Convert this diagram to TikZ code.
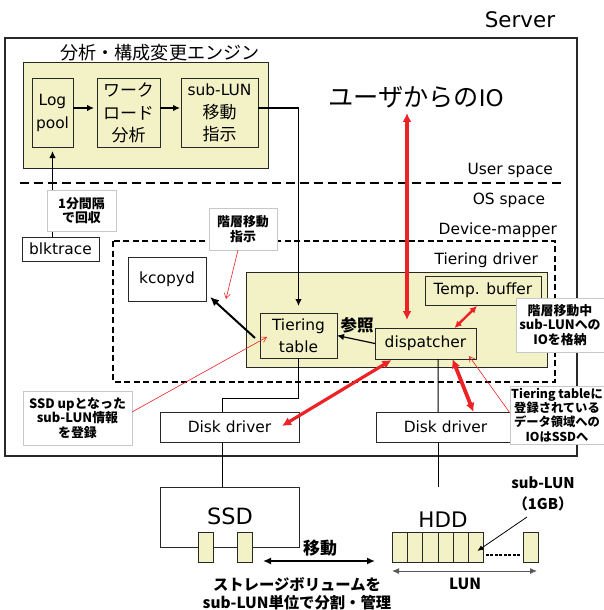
\documentclass[tikz,border=0pt]{standalone}
\usepackage{fontspec}
\setmainfont{DejaVu Sans}
\newfontfamily\jpfont[Scale=1.1]{Noto Sans CJK JP}
\usetikzlibrary{arrows.meta,calc}

\definecolor{paleyellow}{RGB}{242,242,198}
\definecolor{ioRed}{RGB}{236,34,38}
\definecolor{noteline}{RGB}{200,200,200}
\definecolor{boxline}{RGB}{40,40,40}

\begin{document}
\begin{tikzpicture}[x=1bp,y=-1bp,
  every node/.style={inner sep=0pt, outer sep=0pt},
  sz/.style 2 args={minimum width=#1bp, minimum height=#2bp},
  regtext/.style={font=\fontsize{15.5}{22.5}\selectfont},
  plainbox/.style={draw=boxline, line width=1pt, fill=white, align=center, regtext},
  ybox/.style={plainbox, fill=paleyellow},
  note/.style={draw=noteline, line width=1pt, fill=white, align=center,
    font=\jpfont\bfseries\fontsize{11.8}{14.5}\selectfont},
  boldtext/.style={font=\jpfont\bfseries\fontsize{15}{19}\selectfont, align=center},
  arrowblack/.style={draw=black, line width=1.2pt, -{Latex[length=7bp,width=6.5bp]}},
  arrowthick/.style={draw=black, line width=2pt, -{Latex[length=9bp,width=8bp]}},
  redthick/.style={draw=ioRed, line width=3.2pt, {Latex[length=9bp,width=9bp]}-{Latex[length=9bp,width=9bp]}},
  redmid/.style={draw=ioRed, line width=2.4pt, {Latex[length=7bp,width=7bp]}-{Latex[length=7bp,width=7bp]}},
  redthin/.style={draw=ioRed, line width=0.6pt, -{Straight Barb[length=5bp,width=6bp]}},
  wire/.style={draw=black, line width=1pt},
  blackdbl/.style={draw=black, line width=1.5pt, {Latex[length=8bp,width=7bp]}-{Latex[length=8bp,width=7bp]}},
  graydbl/.style={draw=black!65, line width=1pt, {Latex[length=7bp,width=6bp]}-{Latex[length=7bp,width=6bp]}},
  sepdash/.style={draw=black, line width=2pt, dash pattern=on 9bp off 5bp},
  dmdash/.style={draw=black, line width=1.4pt, dash pattern=on 6bp off 3.5bp},
  cell/.style={draw=boxline, line width=1pt, fill=paleyellow, sz={15.33}{30}},
]
\useasboundingbox (0,0) rectangle (604,610);
\fill[white] (0,0) rectangle (604,610);

% server frame and its title
\node[draw=boxline, line width=1.3pt, fill=white, sz={572}{418}] (server) at (291,247) {};
\node[font=\fontsize{21.5}{24}\selectfont] (serverlbl) at (520,20) {Server};

% analysis / reconfiguration engine
\node[font=\jpfont\fontsize{16.5}{18}\selectfont] (enginelbl) at (160,53) {分析・構成変更エンジン};
\node[ybox, sz={245}{105}] (engine) at (145.5,115.5) {};
\node[ybox, sz={41}{68}] (logpool) at (52.5,113) {Log\\pool};
\node[ybox, sz={63}{68}] (work) at (128.5,113) {{\jpfont ワーク}\\{\jpfont ロード}\\{\jpfont 分析}};
\node[ybox, sz={77}{68}] (sub) at (219.5,113) {sub-LUN\\{\jpfont 移動}\\{\jpfont 指示}};
\draw[arrowblack, shorten >=3bp] ($(logpool.east)+(0,-5)$) -- ($(work.west)+(0,-5)$);
\draw[arrowblack, shorten >=1bp] ($(work.east)+(0,-5)$) -- ($(sub.west)+(0,-5)$);

% user / OS boundary
\draw[sepdash] (20,183) -- (563,183);
\node[regtext, anchor=east] (userspace) at (553,170) {User space};
\node[regtext, anchor=east] (osspace) at (545,200) {OS space};

% user IO label
\node[font=\fontsize{23}{26}\selectfont] (iotxt) at (416,97) {{\jpfont ユーザからの}IO};
\coordinate (iohead) at (407,113);

% blktrace
\node[plainbox, sz={77}{24}] (blktrace) at (60.5,249) {blktrace};
\draw[arrowblack, shorten >=4bp] (blktrace.north -| logpool.south) -- (logpool.south);
\node[note, sz={69}{41}] (note1) at (81.5,210.5) {1分間隔\\で回収};

% device-mapper
\draw[dmdash] (113,241) rectangle (555,382);
\node[regtext, anchor=east] (dmlbl) at (557,230) {Device-mapper};
\node[plainbox, sz={78}{44}] (kcopyd) at (167,279) {kcopyd};

% tiering driver
\node[ybox, sz={301}{95}] (tdriver) at (396.5,319.5) {};
\node[regtext, anchor=east] (tdlbl) at (538,260) {Tiering driver};
\node[ybox, sz={116}{29}] (temp) at (483,290.5) {Temp. buffer};
\node[ybox, sz={77}{45}] (table) at (298.5,335.5) {Tiering\\table};
\node[ybox, sz={101}{31}] (disp) at (425.5,343.5) {dispatcher};
\node[boldtext] (reflbl) at (357,325) {参照};

\draw[arrowblack, shorten >=7bp] ($(sub.east)+(0,-5)$) -| (table.north);
\draw[arrowblack] (disp.west) -- (table.east);
\draw[arrowthick] ($(table.west)+(-5,2.5)$) -- ($(kcopyd.south east)+(4,-4)$);

% disk drivers
\node[plainbox, sz={139}{30}] (disk1) at (229.5,427) {Disk driver};
\node[plainbox, sz={139}{30}] (disk2) at (445.5,427) {Disk driver};
\draw[wire] (table.south) -- ++(0,40) -| ($(disk1.north)+(-7.5,0)$);
\draw[wire] ($(disp.south)+(12.5,0)$) -- ($(disk2.north)+(-7.5,0)$);

% IO paths
\draw[redthick, shorten >=8bp] (iohead) -- (iohead |- disp.north);
\draw[redmid] ($(temp.south)+(-6,1)$) -- ($(disp.north)+(29,0)$);
\draw[redthick, line width=3.8pt] ($(disp.south)+(27,0)$) -- ($(disk2.north)+(28,0)$);
\draw[redthick] ($(disp.south)+(-34,1)$) -- ($(disk1.east)+(-17,-1)$);

% annotations
\node[note, sz={68}{42}] (note2) at (243,229) {階層移動\\指示};
\coordinate (movetip) at (226,299);
\draw[redthin] ($(note2.south)+(-5,0)$) -- (movetip);

\node[note, sz={88}{54}] (note3) at (560,325) {階層移動中\\sub-LUNへの\\IOを格納};
\node[note, sz={94}{58}, font=\jpfont\bfseries\fontsize{11.2}{14.3}\selectfont] (note4) at (557,415) {Tiering tableに\\登録されている\\データ領域への\\IOはSSDへ};
\draw[redthin] ($(note4.west)+(0,-2)$) -- ($(disp.south east)+(-7,-3)$);

\node[note, sz={109}{54}] (note5) at (77.5,418) {SSD upとなった\\sub-LUN情報\\を登録};
\draw[redthin] ($(note5.east)+(0,-6)$) -- ($(table.west)+(7,1.5)$);

% SSD
\node[draw=boxline, line width=1pt, fill=white, sz={139}{60}] (ssd) at (229.5,517) {};
\draw[wire] ($(disk1.south)+(-7.5,0)$) -- ($(ssd.north)+(-7.5,0)$);
\node[font=\fontsize{22.5}{24}\selectfont] (ssdlbl) at (230,516) {SSD};
\node[cell, minimum width=15bp] (sr1) at (205.5,547) {};
\node[cell, minimum width=15bp] (sr2) at (244.5,547) {};

% HDD
\coordinate (hddtop) at (438,487);
\draw[wire] ($(disk2.south)+(-7.5,0)$) -- (hddtop);
\node[font=\fontsize{21.5}{24}\selectfont] (hddlbl) at (443,520) {HDD};
\foreach \i in {0,...,5} {
  \node[cell] (hc\i) at ({399.67+15.33*\i},547) {};
}
\node[cell, minimum width=15bp] (hclast) at (530.5,547) {};
\draw[line width=1.2pt, dash pattern=on 3bp off 1.5bp] ($(hc5.east)+(2,8)$) -- ($(hclast.west)+(-3,8)$);

% sub-LUN size label
\node[boldtext, font=\jpfont\bfseries\fontsize{13.5}{21}\selectfont] (sublun) at (543,493.5) {sub-LUN\\（1GB）};
\coordinate (subtail) at (527,517);
\draw[draw=black, line width=0.8pt, -{Latex[length=6bp,width=5bp]}] (subtail) -- ($(hc5.center)+(1,4)$);

% LUN span
\draw[graydbl] ($(hc0.south west)+(0,9)$) -- ($(hclast.south east)+(-1,9)$);
\node[boldtext, font=\jpfont\bfseries\fontsize{14}{15}\selectfont] (lunlbl) at (465,584) {LUN};

% migration between tiers
\draw[blackdbl] ($(sr2.east)+(11,14)$) -- ($(hc0.west)+(-17,14)$);
\node[boldtext, font=\jpfont\bfseries\fontsize{15.5}{17}\selectfont] (movelbl) at (320,548) {移動};
\node[boldtext, font=\jpfont\bfseries\fontsize{14}{18}\selectfont] (bottomlbl) at (297,594) {ストレージボリュームを\\sub-LUN単位で分割・管理};
\end{tikzpicture}
\end{document}
